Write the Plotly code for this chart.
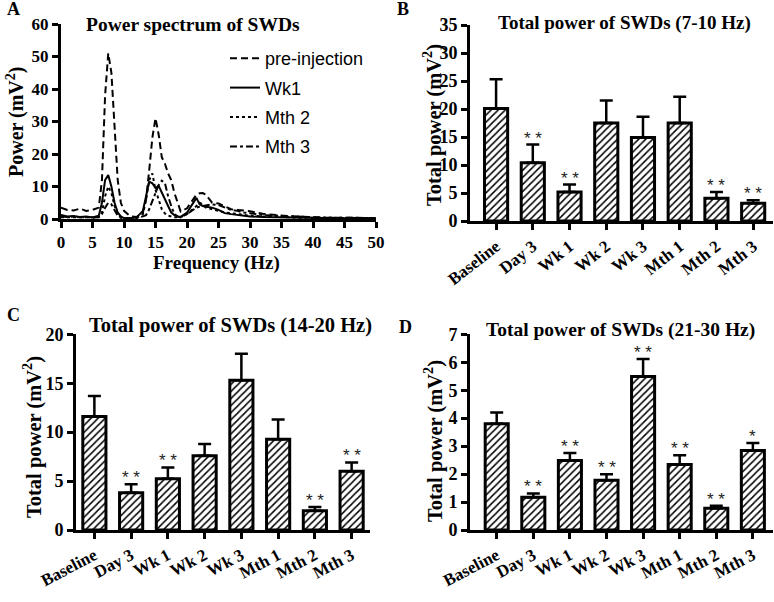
import plotly.graph_objects as go

# ---------------- Panel A data: power spectrum ----------------
freq = [0, 1, 2, 3, 4, 5, 6, 6.5, 7, 7.5, 8, 8.5, 9, 9.5, 10, 11, 12, 13, 13.5, 14, 14.5,
        15, 15.5, 16, 16.5, 17, 17.5, 18, 18.5, 19, 20, 21, 21.5, 22, 22.5, 23, 24, 25,
        26, 27, 28, 29, 30, 32, 34, 36, 38, 40, 42, 44, 46, 48, 50]
pre_injection = [3.5, 2.8, 2.6, 3.2, 2.5, 2.8, 3.5, 12, 38, 51, 45, 28, 12, 5, 2.5, 0.8, 0.6, 2, 6,
                 15, 25, 31, 26, 19, 17, 14, 12, 8, 5, 2.3, 3.3, 6, 7.5, 7.9, 8, 7.5, 5, 4.8,
                 3.8, 3, 2.8, 2.6, 2.4, 1.6, 1.2, 0.9, 0.7, 0.5, 0.4, 0.4, 0.3, 0.3, 0.3]
wk1 = [1.2, 0.8, 0.9, 0.6, 0.8, 0.5, 1, 5, 12, 13.5, 10, 5, 2, 0.8, 0.3, 0.2, 0.5, 2.5, 7,
       11.5, 11, 9.5, 10.2, 8, 6, 4, 2, 1.2, 0.8, 0.7, 2, 5, 6.5, 4.5, 4, 3.8, 3.5, 2.8,
       1.8, 1.5, 1.2, 1, 0.8, 0.6, 0.5, 0.4, 0.3, 0.3, 0.2, 0.2, 0.2, 0.2, 0.2]
mth2 = [0.5, 0.5, 0.4, 0.5, 0.4, 0.3, 0.5, 2, 7, 10, 8, 4, 1.5, 0.5, 0.3, 0.2, 0.3, 1.5, 6,
        12, 14, 9, 5.8, 3, 1.7, 1, 0.8, 0.5, 0.5, 0.6, 1.5, 3, 4, 5, 4.5, 3.5, 3, 2.5,
        2, 1.8, 1.5, 1.2, 1, 0.8, 0.6, 0.5, 0.4, 0.4, 0.3, 0.3, 0.3, 0.3, 0.3]
mth3 = [0.8, 0.6, 0.7, 0.5, 0.6, 0.4, 0.6, 1.5, 3.5, 5, 4.5, 2.5, 1, 0.4, 0.2, 0.2, 0.3, 0.8, 1.2,
        3, 5.8, 8, 10.5, 11.8, 11, 7, 4, 1.5, 0.8, 0.5, 1.5, 3, 3.5, 3.8, 4, 4.2, 4.5, 4.3,
        3.5, 2.8, 2.5, 2, 1.8, 1.2, 1, 0.8, 0.6, 0.5, 0.4, 0.4, 0.3, 0.3, 0.3]
a_x_ticks = [0, 5, 10, 15, 20, 25, 30, 35, 40, 45, 50]
a_y_ticks = [0, 10, 20, 30, 40, 50, 60]

# ---------------- Bar panels ----------------
categories = ["Baseline", "Day 3", "Wk 1", "Wk 2", "Wk 3", "Mth 1", "Mth 2", "Mth 3"]

b_vals = [20.1, 10.4, 5.2, 17.5, 14.9, 17.5, 4.05, 3.15]
b_err = [5.2, 3.25, 1.3, 4.0, 3.7, 4.7, 1.15, 0.55]
b_sig = ["", "* *", "* *", "", "", "", "* *", "* *"]

c_vals = [11.6, 3.8, 5.25, 7.6, 15.3, 9.27, 1.98, 6.0]
c_err = [2.1, 0.87, 1.15, 1.2, 2.7, 2.03, 0.37, 0.9]
c_sig = ["", "* *", "* *", "", "", "", "* *", "* *"]

d_vals = [3.8, 1.17, 2.49, 1.78, 5.49, 2.34, 0.78, 2.84]
d_err = [0.4, 0.14, 0.26, 0.21, 0.63, 0.33, 0.09, 0.27]
d_sig = ["", "* *", "* *", "* *", "* *", "* *", "* *", "*"]

SERIF = "Liberation Serif"
SANS = "Liberation Sans"
W, H = 774, 602

fig = go.Figure()

# Panel A lines
line_specs = [
    ("pre-injection", pre_injection, "7px,4px"),
    ("Wk1", wk1, "solid"),
    ("Mth 2", mth2, "3px,3px"),
    ("Mth 3", mth3, "7px,3px,3px,3px"),
]
for name, ys, dash in line_specs:
    fig.add_trace(go.Scatter(x=freq, y=ys, mode="lines", name=name, legendgroup=name,
                             line=dict(color="black", width=2, dash=dash),
                             xaxis="x", yaxis="y"))

# Bar panels
bar_panels = [
    ("x2", "y2", b_vals, b_err, b_sig),
    ("x3", "y3", c_vals, c_err, c_sig),
    ("x4", "y4", d_vals, d_err, d_sig),
]
annotations = []
for xa, ya, vals, errs, sigs in bar_panels:
    fig.add_trace(go.Bar(
        x=categories, y=vals, xaxis=xa, yaxis=ya, width=0.63, showlegend=False,
        marker=dict(color="white", line=dict(color="black", width=3),
                    pattern=dict(shape="/", fgcolor="black", bgcolor="white",
                                 size=5, solidity=0.3)),
        error_y=dict(type="data", symmetric=False, array=errs, arrayminus=[0] * len(errs),
                     color="black", thickness=2.5, width=6.5),
    ))
    for cat, v, e, s in zip(categories, vals, errs, sigs):
        if s:
            annotations.append(dict(x=cat, y=v + e, xref=xa, yref=ya, text=s,
                                    showarrow=False, yanchor="bottom", yshift=-5,
                                    font=dict(family=SANS, size=17, color="#222")))

axis_common = dict(showline=True, linewidth=3, linecolor="black", ticks="outside",
                   ticklen=6, tickwidth=3, tickcolor="black", showgrid=False,
                   zeroline=False, mirror=False, automargin=False)
tickfont = dict(family=SERIF, size=18, color="black", weight="bold")
cat_font = dict(family=SERIF, size=17, color="black", weight="bold")

layout_axes = dict(
    xaxis=dict(domain=[61 / W, 376 / W], range=[0, 50], tickvals=a_x_ticks, anchor="y",
               tickfont=dict(family=SERIF, size=17, color="black", weight="bold"),
               **axis_common),
    yaxis=dict(domain=[1 - 219 / H, 1 - 24 / H], range=[0, 60], tickvals=a_y_ticks, anchor="x",
               tickfont=dict(family=SERIF, size=17, color="black", weight="bold"),
               **axis_common),
    xaxis2=dict(domain=[470 / W, 773 / W], range=[-0.71, 7.54], anchor="y2", type="category",
                tickangle=-38, tickfont=cat_font, **axis_common),
    yaxis2=dict(domain=[1 - 221 / H, 1 - 25 / H], range=[0, 35], dtick=5, anchor="x2",
                tickfont=tickfont, **axis_common),
    xaxis3=dict(domain=[76 / W, 370 / W], range=[-0.5, 7.5], anchor="y3", type="category",
                tickangle=-28, tickfont=cat_font, **axis_common),
    yaxis3=dict(domain=[1 - 530 / H, 1 - 334.3 / H], range=[0, 20], dtick=5, anchor="x3",
                tickfont=tickfont, **axis_common),
    xaxis4=dict(domain=[470 / W, 773 / W], range=[-0.73, 7.55], anchor="y4", type="category",
                tickangle=-28, tickfont=cat_font, **axis_common),
    yaxis4=dict(domain=[1 - 530 / H, 1 - 334.3 / H], range=[0, 7], dtick=1, anchor="x4",
                tickfont=tickfont, **axis_common),
)


def px(xp, yp):
    return xp / W, 1 - yp / H


# (text, x px, y px, size, angle)
texts = [
    ("A", 13, 9, 18, 0), ("B", 403, 9, 18, 0), ("C", 13, 315, 18, 0), ("D", 405, 327, 18, 0),
    ("Power spectrum of SWDs", 193, 24, 19.5, 0),
    ("Total power of SWDs (7-10 Hz)", 624, 23, 19, 0),
    ("Total power of SWDs (14-20 Hz)", 230, 325, 20.5, 0),
    ("Total power of SWDs (21-30 Hz)", 620, 330, 19.5, 0),
    ("Frequency (Hz)", 217, 263, 19, 0),
    ("Power (mV<sup>2</sup>)", 15, 122, 20, -90),
    ("Total power (mV<sup>2</sup>)", 433, 125, 20.5, -90),
    ("Total power (mV<sup>2</sup>)", 32, 437, 20.5, -90),
    ("Total power (mV<sup>2</sup>)", 433, 441, 20.5, -90),
]
for t, xp, yp, sz, ang in texts:
    xx, yy = px(xp, yp)
    annotations.append(dict(x=xx, y=yy, xref="paper", yref="paper", text=t, showarrow=False,
                            xanchor="center", yanchor="middle", textangle=ang,
                            font=dict(family=SERIF, size=sz, color="black", weight="bold")))

fig.update_layout(
    template="none",
    width=W, height=H, margin=dict(l=0, r=0, t=0, b=0, autoexpand=False),
    paper_bgcolor="white", plot_bgcolor="white",
    showlegend=True,
    legend=dict(x=225 / W, y=1 - 40 / H, xanchor="left", yanchor="top",
                font=dict(family=SANS, size=18, color="black"),
                bgcolor="rgba(0,0,0,0)", itemwidth=30, tracegroupgap=3),
    annotations=annotations,
    **layout_axes,
)

fig.write_html("out.html", config={"displayModeBar": False},
               post_script="document.body.style.margin='0px';")
